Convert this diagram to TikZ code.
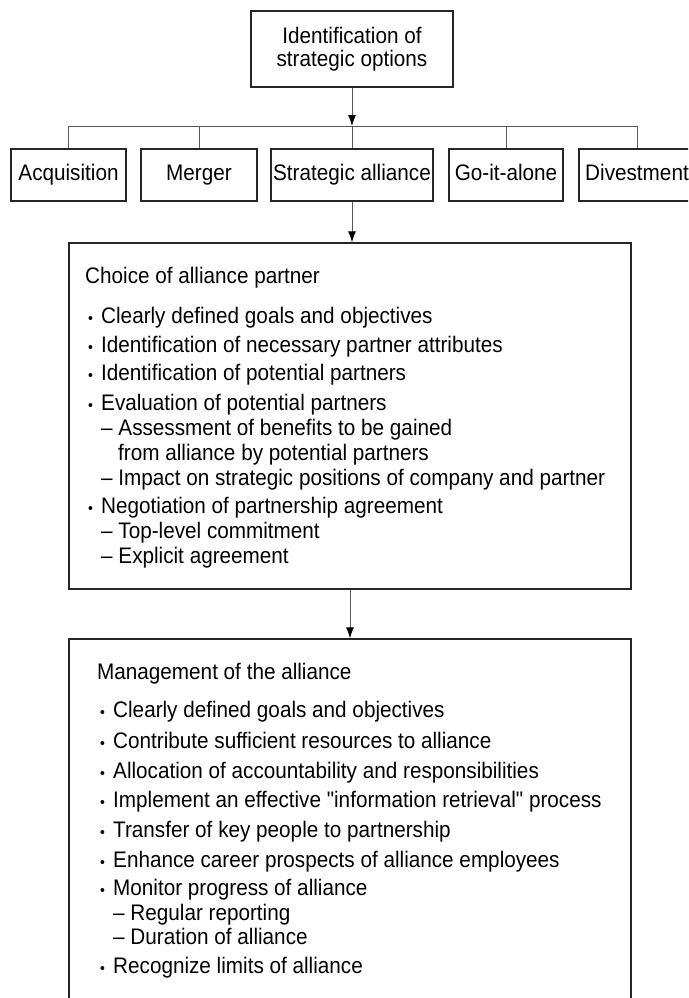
\documentclass[tikz,border=0pt]{standalone}
\usepackage{fontspec}
\newfontfamily\bodyfont{Liberation Sans}[FakeStretch=0.92]
\usetikzlibrary{arrows.meta}
\newcommand\bodysize{\bodyfont\fontsize{22.5}{23}\selectfont}
\newcommand\itembullet{\makebox[13pt][l]{\fontsize{15}{15}\selectfont •}}
\begin{document}
\begin{tikzpicture}[x=1pt,y=-1pt,
  boxline/.style={draw=black!85, line width=1.3pt},
  optbox/.style={boxline, minimum height=52pt, inner sep=0pt, font=\bodysize,
    text height=16pt, text depth=4.5pt},
  conn/.style={draw=black!65, line width=0.9pt},
  tip/.style={-{Latex[length=11pt,width=8pt,color=black]}},
  line/.style={anchor=base west, inner sep=0pt, font=\bodysize}]
\clip (0,0) rectangle (688,998);
\fill[white] (0,0) rectangle (688,998);

% top level
\node[boxline, minimum width=202pt, minimum height=76pt, align=center,
  font=\bodysize] (top) at (352,49) {Identification of\\strategic options};

% strategic options
\node[optbox, minimum width=115pt] (acq) at (68.5,175) {Acquisition};
\node[optbox, minimum width=116pt] (mer) at (199,175) {Merger};
\node[optbox, minimum width=162pt] (sa)  at (352,175) {Strategic alliance};
\node[optbox, minimum width=114pt] (go)  at (506,175) {Go-it-alone};
\node[optbox, minimum width=116pt] (div) at (637,175) {Divestment};

\coordinate (bar) at (352,126);
\draw[conn,tip] (top.south) -- (top.south |- bar);
\draw[conn] (acq.north |- bar) -- (div.north |- bar);
\foreach \b in {acq,mer,sa,go,div}
  \draw[conn] (\b.north |- bar) -- (\b.north);

% partner selection stage
\node[boxline, minimum width=562pt, minimum height=346pt, inner sep=0pt]
  (choice) at (350,416) {};
\draw[conn,tip] (sa.south) -- (sa.south |- choice.north);

\node[line] (ctitle) at (85,283) {Choice of alliance partner};
\foreach \ty/\lbl [count=\i] in {
  323/Clearly defined goals and objectives,
  352/Identification of necessary partner attributes,
  380/Identification of potential partners,
  410/Evaluation of potential partners,
  513/Negotiation of partnership agreement}
  \node[line] (cb\i) at (88,\ty) {\itembullet\lbl};
\foreach \ty/\lbl [count=\i] in {
  435/Assessment of benefits to be gained,
  485/Impact on strategic positions of company and partner,
  538/Top-level commitment,
  563/Explicit agreement}
  \node[line] (cs\i) at (101,\ty) {– \lbl};
\node[line] (ccont) at (118,460) {from alliance by potential partners};

% management stage
\node[boxline, minimum width=562pt, minimum height=371pt, inner sep=0pt]
  (mgmt) at (350,824.5) {};
\draw[conn,tip] (choice.south) -- (mgmt.north);

\node[line] (mtitle) at (97,679) {Management of the alliance};
\foreach \ty/\lbl [count=\i] in {
  717/Clearly defined goals and objectives,
  748/Contribute sufficient resources to alliance,
  778/Allocation of accountability and responsibilities,
  807/Implement an effective "information retrieval" process,
  837/Transfer of key people to partnership,
  867/Enhance career prospects of alliance employees,
  895/Monitor progress of alliance,
  973/Recognize limits of alliance}
  \node[line] (mb\i) at (100,\ty) {\itembullet\lbl};
\foreach \ty/\lbl [count=\i] in {
  920/Regular reporting,
  944/Duration of alliance}
  \node[line] (ms\i) at (113,\ty) {– \lbl};
\end{tikzpicture}
\end{document}
